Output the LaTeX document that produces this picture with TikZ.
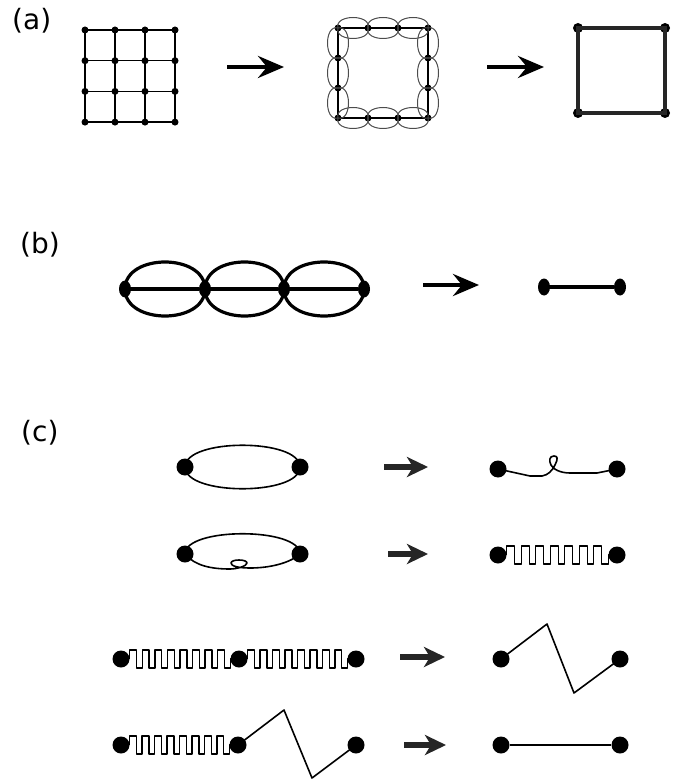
\documentclass[tikz,border=0pt]{standalone}
\usepackage{fontspec}
\setmainfont{DejaVu Sans}
\usetikzlibrary{arrows.meta,calc,shapes.geometric}

\begin{document}
\begin{tikzpicture}[x=1pt,y=-1pt,
  font=\fontsize{28}{32}\selectfont,
  dot/.style={circle,fill=black,inner sep=0pt,minimum size=#1},
  dot/.default=17pt,
  bdot/.style={ellipse,fill=black,inner sep=0pt,minimum width=12pt,minimum height=17pt},
  edge/.style={draw=black,line width=1.4pt},
  loopy/.style={draw=black!70,line width=1pt},
  heavy/.style={draw=black!85,line width=3.6pt},
  belly/.style={draw=black,line width=3.2pt},
  wire/.style={draw=black,line width=1.6pt,line join=round},
  arr/.style={-{Stealth[length=26pt,width=22pt,inset=9pt]},line width=4.5pt},
  carr/.style={-{Stealth[length=21pt,width=20pt,inset=6pt]},line width=5.5pt,draw=black!85},
  lbl/.style={anchor=base west,inner sep=0pt}]
\useasboundingbox (0,0) rectangle (684,783);

\node[lbl] (la) at (12,29.5) {(a)};
\node[lbl] (lb) at (20,253.5) {(b)};
\node[lbl] (lc) at (21,441.5) {(c)};

% (a) lattice, coarse-grained ring of blocks, single plaquette
\foreach \i in {0,...,3}{
  \foreach \j in {0,...,3}{
    \pgfmathsetmacro{\xx}{85+30*\i}
    \pgfmathsetmacro{\yy}{30+30.7*\j}
    \node[dot=7pt] (g\i\j) at (\xx,\yy) {};
  }
}
\foreach \k in {0,...,3}{
  \draw[edge] (g\k0.center) -- (g\k3.center);
  \draw[edge] (g0\k.center) -- (g3\k.center);
}
\coordinate (aa1) at (227,67);
\coordinate (aa2) at (284,67);
\draw[arr] (aa1) -- (aa2);

\foreach \i in {0,...,3}{
  \foreach \j in {0,...,3}{
    \pgfmathtruncatemacro{\rim}{(\i==0)||(\i==3)||(\j==0)||(\j==3)}
    \ifnum\rim=1 \node[dot=7pt] (m\i\j) at (338+30*\i,28+30*\j) {};\fi
  }
}
\draw[edge] (m00.center) -- (m30.center) -- (m33.center) -- (m03.center) -- cycle;
\foreach \i/\k in {0/1,1/2,2/3}{
  \foreach \j in {0,3}{
    \draw[loopy] (m\i\j.center) .. controls +(-4,-14) and +(4,-14) .. (m\k\j.center)
                 .. controls +(4,14) and +(-4,14) .. (m\i\j.center);
    \draw[loopy] (m\j\i.center) .. controls +(-14,-4) and +(-14,4) .. (m\j\k.center)
                 .. controls +(14,4) and +(14,-4) .. (m\j\i.center);
  }
}
\coordinate (ab1) at (487,67);
\coordinate (ab2) at (544,67);
\draw[arr] (ab1) -- (ab2);

\node[dot=10pt] (s1) at (578,28) {};
\node[dot=10pt] (s2) at (665,28) {};
\node[dot=10pt] (s3) at (665,113) {};
\node[dot=10pt] (s4) at (578,113) {};
\draw[heavy] (s1.center) -- (s2.center) -- (s3.center) -- (s4.center) -- cycle;

% (b) chain of bubbles
\foreach \n/\xx in {1/125,2/205,3/284,4/364}
  \node[bdot] (b\n) at (\xx,289) {};
\foreach \i/\k in {1/2,2/3,3/4}{
  \draw[belly] (b\i.center) .. controls +(0,-36) and +(0,-36) .. (b\k.center)
               .. controls +(0,36) and +(0,36) .. (b\i.center);
  \draw[belly] (b\i) -- (b\k);
}
\coordinate (ba1) at (423,285);
\coordinate (ba2) at (479,285);
\draw[arr] (ba1) -- (ba2);
\node[bdot] (b5) at (544,287) {};
\node[bdot] (b6) at (620,287) {};
\draw[belly] (b5) -- (b6);

% (c) four reductions
\node[dot] (c1a) at (185,467) {};
\node[dot] (c1b) at (300,467) {};
\draw[wire] (c1a.center) .. controls +(0,-29) and +(0,-29) .. (c1b.center)
            .. controls +(0,29) and +(0,29) .. (c1a.center);
\coordinate (ca1) at (384,467);
\coordinate (ca2) at (428,467);
\draw[carr] (ca1) -- (ca2);
\node[dot] (c1c) at (498,469) {};
\node[dot] (c1d) at (617,469) {};
\draw[wire] (c1c.center) -- (530,476) -- (542,476)
  .. controls (548,475) and (552,471) .. (555,465)
  .. controls (558,459) and (558,456) .. (554,456)
  .. controls (549,456) and (549,461) .. (551,465)
  .. controls (553,469) and (560,473) .. (570,473) -- (597,473) -- (c1d.center);

\node[dot] (c2a) at (185,554) {};
\node[dot] (c2b) at (300,554) {};
\draw[wire] (c2a.center) .. controls +(0,-27) and +(0,-27) .. (c2b.center);
\draw[wire] (c2a.center) .. controls (195,566) and (212,569) .. (230,569)
  .. controls (237,569) and (247,566) .. (247,563)
  .. controls (247,559) and (231,559) .. (231,563)
  .. controls (231,566) and (238,568) .. (250,568)
  .. controls (270,568) and (290,563) .. (c2b.center);
\coordinate (cb1) at (388,554);
\coordinate (cb2) at (428,554);
\draw[carr] (cb1) -- (cb2);
\node[dot] (c2c) at (498,555) {};
\node[dot] (c2d) at (617,555) {};

\node[dot] (c3a) at (121,659) {};
\node[dot] (c3b) at (239,659) {};
\node[dot] (c3c) at (356,659) {};
\coordinate (cc1) at (400,657);
\coordinate (cc2) at (445,657);
\draw[carr] (cc1) -- (cc2);
\node[dot] (c3d) at (501,659) {};
\node[dot] (c3e) at (620,659) {};
\draw[wire] (c3d.center) -- (547,624) -- (574,693) -- (c3e.center);

\node[dot] (c4a) at (121,745) {};
\node[dot] (c4b) at (238,745) {};
\node[dot] (c4c) at (356,745) {};
\draw[wire] (c4b.center) -- (284,710) -- (312,778) -- (c4c.center);
\coordinate (cd1) at (404,745);
\coordinate (cd2) at (446,745);
\draw[carr] (cd1) -- (cd2);
\node[dot] (c4d) at (501,745) {};
\node[dot] (c4e) at (620,745) {};
\draw[wire] (c4d) -- (c4e);

% square-wave strings
\foreach \da/\db/\hump in {c2c/c2d/7,c3a/c3b/8,c3b/c3c/8,c4a/c4b/8}{
  \draw[wire,line width=1.4pt] let \p1=($(\db.west)-(\da.east)$), \n1={\x1/\hump} in
    (\da.east) \foreach \k in {1,...,\hump}{
      -- ++(0,-9) -- ++(.55*\n1,0) -- ++(0,18) -- ++(.45*\n1,0) -- ++(0,-9)}
    -- (\db.center);
}
\end{tikzpicture}
\end{document}
